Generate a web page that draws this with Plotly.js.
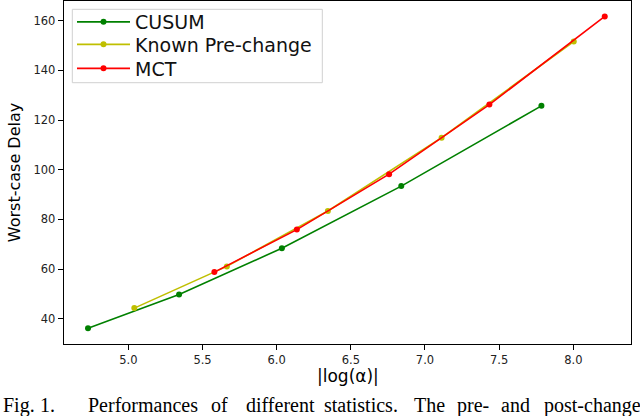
<!DOCTYPE html>
<html>
<head>
<meta charset="utf-8">
<script src="https://cdn.plot.ly/plotly-3.0.1.min.js"></script>
<style>html,body{margin:0;padding:0;background:#fff;}#chart{width:640px;height:416px;}</style>
</head>
<body>
<div id="chart"></div>
<script>
// Data
const cusumX = [4.728, 5.342, 6.035, 6.840, 7.785];
const cusumY = [36.2, 49.8, 68.4, 93.4, 125.7];

const knownX = [5.040, 5.664, 6.345, 7.112, 8.003];
const knownY = [44.3, 61.1, 83.4, 112.9, 151.6];

const mctX = [5.580, 6.136, 6.758, 7.434, 8.212];
const mctY = [58.8, 75.9, 98.2, 126.2, 161.7];

const seriesNames = ["CUSUM", "Known Pre-change", "MCT"];
const xTickVals = [5.0, 5.5, 6.0, 6.5, 7.0, 7.5, 8.0];
const xTickText = ["5.0", "5.5", "6.0", "6.5", "7.0", "7.5", "8.0"];
const yTickVals = [40, 60, 80, 100, 120, 140, 160];
const yTickText = ["40", "60", "80", "100", "120", "140", "160"];
const xTitle = '|log(α)|';
const yTitle = 'Worst-case Delay';

const captionWords = ["Fig.", "1.", "Performances", "of", "different", "statistics.", "The", "pre-", "and", "post-change"];
const captionLeft = [1, 38, 86, 209, 244, 322, 412, 455, 499, 542];

const W = 640, H = 416;
const margin = {l: 64, r: 9, t: 1, b: 72};
const plotW = W - margin.l - margin.r;
const plotH = H - margin.t - margin.b;
const px = v => (v - margin.l) / plotW;          // pixel x -> paper
const py = v => (margin.t + plotH - v) / plotH;  // pixel y -> paper

const legendIds = ['legend', 'legend2', 'legend3'];
const legendRowY = [22, 44.5, 68.5];

function mk(x, y, name, color, leg) {
  return {
    x: x, y: y, name: name, type: 'scatter', mode: 'lines+markers',
    line: {color: color, width: 1.6},
    marker: {color: color, size: 6},
    legend: leg
  };
}

const data = [
  mk(cusumX, cusumY, seriesNames[0], '#008000', legendIds[0]),
  mk(knownX, knownY, seriesNames[1], '#bfbf00', legendIds[1]),
  mk(mctX, mctY, seriesNames[2], '#ff0000', legendIds[2])
];

const annotations = captionWords.map((w, i) => ({
  text: w, xref: 'paper', yref: 'paper',
  x: px(captionLeft[i]), xanchor: 'left',
  y: py(405), yanchor: 'middle',
  showarrow: false,
  font: {family: 'Liberation Serif, Times New Roman, serif', size: 20, color: '#000'}
}));
annotations.push({
  text: xTitle, xref: 'paper', yref: 'paper',
  x: 0.5, xanchor: 'center', y: py(376), yanchor: 'middle',
  showarrow: false, borderpad: 0,
  font: {family: 'DejaVu Sans, sans-serif', size: 17, color: '#000'}
});

const axisCommon = {
  showline: true, linecolor: '#000', linewidth: 1.3, mirror: true,
  showgrid: false, zeroline: false,
  ticks: 'outside', ticklen: 5, tickwidth: 1, tickcolor: '#000',
  tickfont: {family: 'DejaVu Sans, sans-serif', size: 11.5, color: '#222'}
};

function legendAt(rowY) {
  return {
    x: px(72), xanchor: 'left',
    y: py(rowY), yanchor: 'middle',
    bgcolor: 'rgba(0,0,0,0)', borderwidth: 0,
    font: {family: 'DejaVu Sans, sans-serif', size: 19, color: '#111'},
    itemwidth: 53
  };
}

const layout = {
  width: W, height: H,
  margin: margin,
  paper_bgcolor: '#fff', plot_bgcolor: '#fff',
  showlegend: true,
  legend: legendAt(legendRowY[0]),
  legend2: legendAt(legendRowY[1]),
  legend3: legendAt(legendRowY[2]),
  shapes: [{
    type: 'rect', xref: 'paper', yref: 'paper',
    x0: px(72.3), x1: px(322.3), y0: py(82.7), y1: py(9.3),
    line: {color: '#d0d0d0', width: 1}, fillcolor: 'rgba(255,255,255,0.9)', layer: 'below'
  }],
  xaxis: Object.assign({}, axisCommon, {
    range: [4.566, 8.389],
    tickvals: xTickVals, ticktext: xTickText
  }),
  yaxis: Object.assign({}, axisCommon, {
    range: [29.86, 167.9],
    tickvals: yTickVals, ticktext: yTickText,
    title: {text: yTitle, font: {family: 'DejaVu Sans, sans-serif', size: 16, color: '#000'}, standoff: 8}
  }),
  annotations: annotations
};

Plotly.newPlot('chart', data, layout, {displayModeBar: false, staticPlot: true});
</script>
</body>
</html>
